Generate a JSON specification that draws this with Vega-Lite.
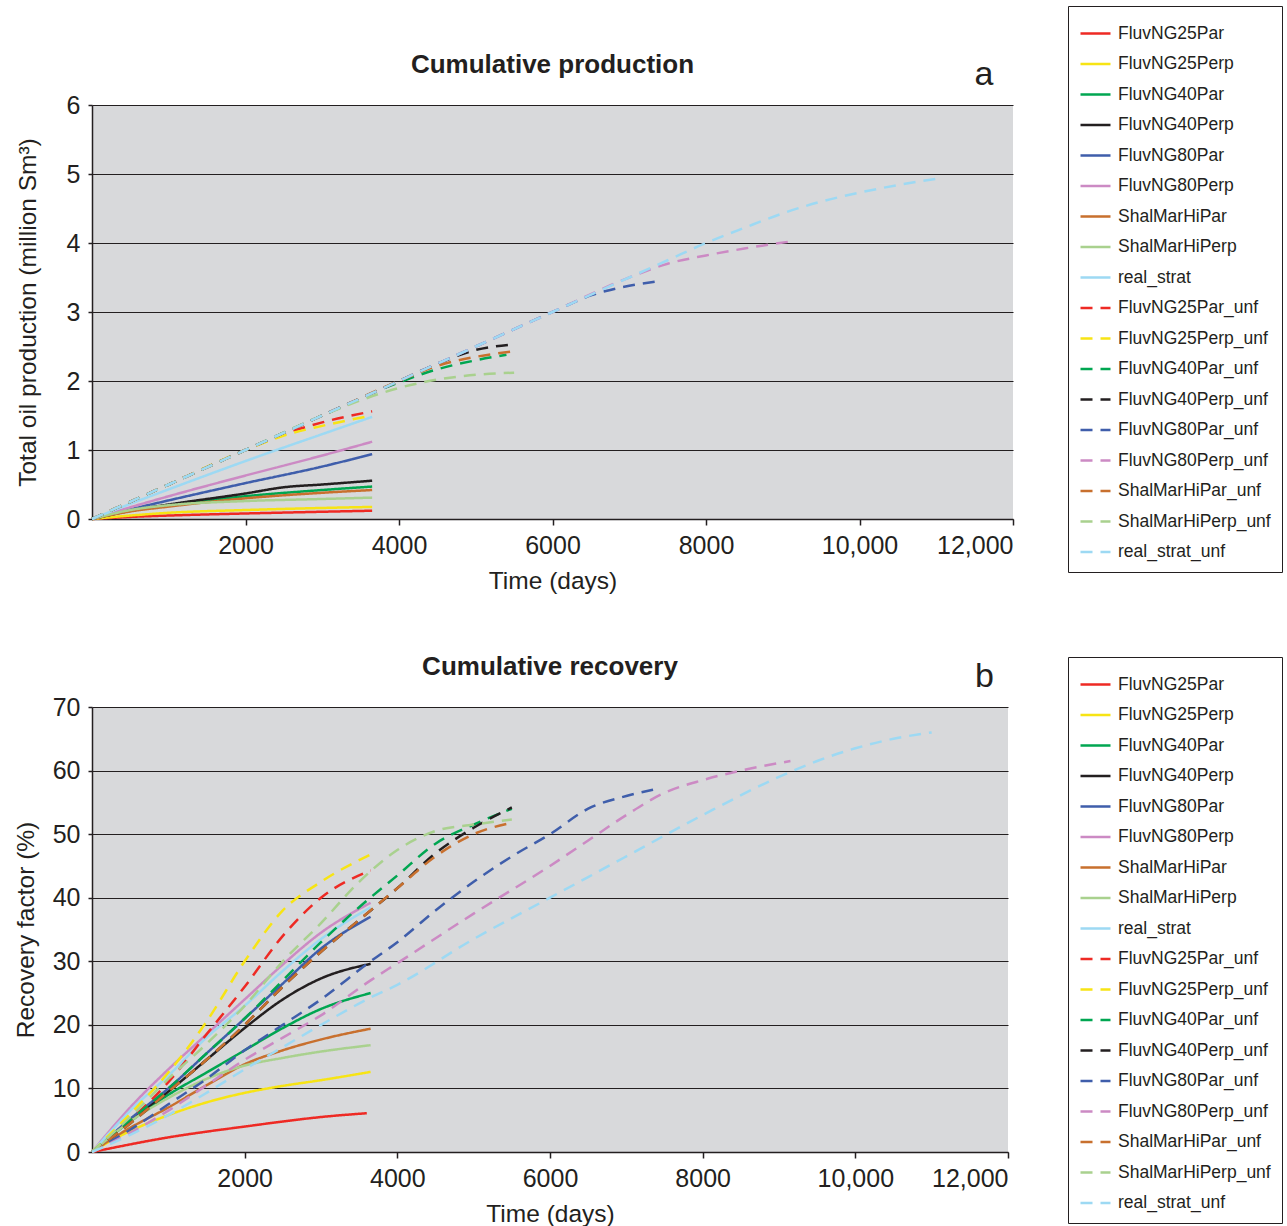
{
  "$schema": "https://vega.github.io/schema/vega-lite/v6.json",
  "padding": {"left": 13, "top": 5, "right": 4, "bottom": 2},
  "background": "white",
  "config": {
    "font": "Liberation Sans",
    "view": {"fill": "#d8d9db", "stroke": null},
    "axis": {
      "labelFont": "Liberation Sans", "labelFontSize": 25, "labelColor": "#231f20",
      "titleFont": "Liberation Sans", "titleFontSize": 24.5, "titleFontWeight": "normal", "titleColor": "#231f20",
      "domainColor": "#231f20", "domainWidth": 1.5, "tickColor": "#231f20", "tickWidth": 1.5,
      "gridColor": "#231f20", "gridWidth": 1.2, "gridOpacity": 1
    },
    "axisX": {"grid": false, "tickSize": 6, "labelPadding": 8, "titlePadding": 11},
    "axisY": {"grid": true, "tickSize": 4, "labelPadding": 8, "titlePadding": 14},
    "line": {"strokeWidth": 2.5, "interpolate": "monotone"},
    "legend": {
      "orient": "none", "symbolType": "stroke", "symbolSize": 900, "symbolStrokeWidth": 2.5,
      "labelFont": "Liberation Sans", "labelFontSize": 17.5, "labelColor": "#231f20", "labelLimit": 240,
      "rowPadding": 5.5, "padding": 11, "strokeColor": "#231f20", "fillColor": "white", "labelOffset": 6
    }
  },
  "datasets": {
    "prod": [
      {"s":"FluvNG25Par","t":0,"v":0},{"s":"FluvNG25Par","t":500,"v":0.03},{"s":"FluvNG25Par","t":1000,"v":0.05},{"s":"FluvNG25Par","t":2000,"v":0.08},{"s":"FluvNG25Par","t":3000,"v":0.105},{"s":"FluvNG25Par","t":3650,"v":0.12},
      {"s":"FluvNG25Perp","t":0,"v":0},{"s":"FluvNG25Perp","t":500,"v":0.05},{"s":"FluvNG25Perp","t":1000,"v":0.09},{"s":"FluvNG25Perp","t":2000,"v":0.13},{"s":"FluvNG25Perp","t":3000,"v":0.16},{"s":"FluvNG25Perp","t":3650,"v":0.175},
      {"s":"FluvNG40Par","t":0,"v":0},{"s":"FluvNG40Par","t":500,"v":0.12},{"s":"FluvNG40Par","t":1000,"v":0.2},{"s":"FluvNG40Par","t":2000,"v":0.33},{"s":"FluvNG40Par","t":3000,"v":0.42},{"s":"FluvNG40Par","t":3650,"v":0.47},
      {"s":"FluvNG40Perp","t":0,"v":0},{"s":"FluvNG40Perp","t":500,"v":0.12},{"s":"FluvNG40Perp","t":1000,"v":0.21},{"s":"FluvNG40Perp","t":2000,"v":0.37},{"s":"FluvNG40Perp","t":2500,"v":0.46},{"s":"FluvNG40Perp","t":3000,"v":0.5},{"s":"FluvNG40Perp","t":3650,"v":0.555},
      {"s":"FluvNG80Par","t":0,"v":0},{"s":"FluvNG80Par","t":500,"v":0.14},{"s":"FluvNG80Par","t":1000,"v":0.27},{"s":"FluvNG80Par","t":2000,"v":0.52},{"s":"FluvNG80Par","t":3000,"v":0.76},{"s":"FluvNG80Par","t":3650,"v":0.94},
      {"s":"FluvNG80Perp","t":0,"v":0},{"s":"FluvNG80Perp","t":500,"v":0.17},{"s":"FluvNG80Perp","t":1000,"v":0.33},{"s":"FluvNG80Perp","t":2000,"v":0.63},{"s":"FluvNG80Perp","t":3000,"v":0.92},{"s":"FluvNG80Perp","t":3650,"v":1.12},
      {"s":"ShalMarHiPar","t":0,"v":0},{"s":"ShalMarHiPar","t":500,"v":0.11},{"s":"ShalMarHiPar","t":1000,"v":0.18},{"s":"ShalMarHiPar","t":2000,"v":0.3},{"s":"ShalMarHiPar","t":3000,"v":0.38},{"s":"ShalMarHiPar","t":3650,"v":0.42},
      {"s":"ShalMarHiPerp","t":0,"v":0},{"s":"ShalMarHiPerp","t":500,"v":0.13},{"s":"ShalMarHiPerp","t":1000,"v":0.2},{"s":"ShalMarHiPerp","t":2000,"v":0.26},{"s":"ShalMarHiPerp","t":3000,"v":0.29},{"s":"ShalMarHiPerp","t":3650,"v":0.31},
      {"s":"real_strat","t":0,"v":0},{"s":"real_strat","t":500,"v":0.22},{"s":"real_strat","t":1000,"v":0.43},{"s":"real_strat","t":2000,"v":0.84},{"s":"real_strat","t":3000,"v":1.23},{"s":"real_strat","t":3650,"v":1.48},
      {"s":"FluvNG25Par_unf","t":0,"v":0},{"s":"FluvNG25Par_unf","t":1000,"v":0.5},{"s":"FluvNG25Par_unf","t":2000,"v":1.0},{"s":"FluvNG25Par_unf","t":2500,"v":1.23},{"s":"FluvNG25Par_unf","t":3000,"v":1.4},{"s":"FluvNG25Par_unf","t":3650,"v":1.56},
      {"s":"FluvNG25Perp_unf","t":0,"v":0},{"s":"FluvNG25Perp_unf","t":1000,"v":0.5},{"s":"FluvNG25Perp_unf","t":2000,"v":1.0},{"s":"FluvNG25Perp_unf","t":2500,"v":1.21},{"s":"FluvNG25Perp_unf","t":3000,"v":1.35},{"s":"FluvNG25Perp_unf","t":3650,"v":1.5},
      {"s":"FluvNG40Par_unf","t":0,"v":0},{"s":"FluvNG40Par_unf","t":1000,"v":0.5},{"s":"FluvNG40Par_unf","t":2000,"v":1.0},{"s":"FluvNG40Par_unf","t":3000,"v":1.5},{"s":"FluvNG40Par_unf","t":4000,"v":1.98},{"s":"FluvNG40Par_unf","t":4500,"v":2.17},{"s":"FluvNG40Par_unf","t":5000,"v":2.3},{"s":"FluvNG40Par_unf","t":5400,"v":2.38},
      {"s":"FluvNG40Perp_unf","t":0,"v":0},{"s":"FluvNG40Perp_unf","t":1000,"v":0.5},{"s":"FluvNG40Perp_unf","t":2000,"v":1.0},{"s":"FluvNG40Perp_unf","t":3000,"v":1.5},{"s":"FluvNG40Perp_unf","t":4000,"v":2.0},{"s":"FluvNG40Perp_unf","t":4500,"v":2.25},{"s":"FluvNG40Perp_unf","t":5000,"v":2.45},{"s":"FluvNG40Perp_unf","t":5500,"v":2.53},
      {"s":"FluvNG80Par_unf","t":0,"v":0},{"s":"FluvNG80Par_unf","t":1000,"v":0.5},{"s":"FluvNG80Par_unf","t":2000,"v":1.0},{"s":"FluvNG80Par_unf","t":3000,"v":1.5},{"s":"FluvNG80Par_unf","t":4000,"v":2.0},{"s":"FluvNG80Par_unf","t":5000,"v":2.5},{"s":"FluvNG80Par_unf","t":6000,"v":3.0},{"s":"FluvNG80Par_unf","t":6500,"v":3.24},{"s":"FluvNG80Par_unf","t":7000,"v":3.38},{"s":"FluvNG80Par_unf","t":7350,"v":3.44},
      {"s":"FluvNG80Perp_unf","t":0,"v":0},{"s":"FluvNG80Perp_unf","t":1000,"v":0.5},{"s":"FluvNG80Perp_unf","t":2000,"v":1.0},{"s":"FluvNG80Perp_unf","t":3000,"v":1.5},{"s":"FluvNG80Perp_unf","t":4000,"v":2.0},{"s":"FluvNG80Perp_unf","t":5000,"v":2.5},{"s":"FluvNG80Perp_unf","t":6000,"v":3.0},{"s":"FluvNG80Perp_unf","t":7000,"v":3.5},{"s":"FluvNG80Perp_unf","t":7500,"v":3.7},{"s":"FluvNG80Perp_unf","t":8000,"v":3.82},{"s":"FluvNG80Perp_unf","t":8500,"v":3.92},{"s":"FluvNG80Perp_unf","t":9150,"v":4.03},
      {"s":"ShalMarHiPar_unf","t":0,"v":0},{"s":"ShalMarHiPar_unf","t":1000,"v":0.5},{"s":"ShalMarHiPar_unf","t":2000,"v":1.0},{"s":"ShalMarHiPar_unf","t":3000,"v":1.5},{"s":"ShalMarHiPar_unf","t":4000,"v":2.0},{"s":"ShalMarHiPar_unf","t":4500,"v":2.22},{"s":"ShalMarHiPar_unf","t":5000,"v":2.35},{"s":"ShalMarHiPar_unf","t":5500,"v":2.43},
      {"s":"ShalMarHiPerp_unf","t":0,"v":0},{"s":"ShalMarHiPerp_unf","t":1000,"v":0.5},{"s":"ShalMarHiPerp_unf","t":2000,"v":1.0},{"s":"ShalMarHiPerp_unf","t":3000,"v":1.5},{"s":"ShalMarHiPerp_unf","t":3500,"v":1.72},{"s":"ShalMarHiPerp_unf","t":4000,"v":1.9},{"s":"ShalMarHiPerp_unf","t":4500,"v":2.02},{"s":"ShalMarHiPerp_unf","t":5000,"v":2.09},{"s":"ShalMarHiPerp_unf","t":5500,"v":2.12},
      {"s":"real_strat_unf","t":0,"v":0},{"s":"real_strat_unf","t":1000,"v":0.5},{"s":"real_strat_unf","t":2000,"v":1.0},{"s":"real_strat_unf","t":3000,"v":1.5},{"s":"real_strat_unf","t":4000,"v":2.0},{"s":"real_strat_unf","t":5000,"v":2.5},{"s":"real_strat_unf","t":6000,"v":3.0},{"s":"real_strat_unf","t":7000,"v":3.5},{"s":"real_strat_unf","t":7500,"v":3.75},{"s":"real_strat_unf","t":8000,"v":4.0},{"s":"real_strat_unf","t":8500,"v":4.22},{"s":"real_strat_unf","t":9000,"v":4.43},{"s":"real_strat_unf","t":9500,"v":4.6},{"s":"real_strat_unf","t":10000,"v":4.73},{"s":"real_strat_unf","t":10500,"v":4.84},{"s":"real_strat_unf","t":11000,"v":4.93}
    ],
    "rec": [
      {"s":"FluvNG25Par","t":0,"v":0},{"s":"FluvNG25Par","t":250,"v":0.6},{"s":"FluvNG25Par","t":500,"v":1.2},{"s":"FluvNG25Par","t":1000,"v":2.3},{"s":"FluvNG25Par","t":1500,"v":3.2},{"s":"FluvNG25Par","t":2000,"v":4.0},{"s":"FluvNG25Par","t":2500,"v":4.8},{"s":"FluvNG25Par","t":3000,"v":5.5},{"s":"FluvNG25Par","t":3600,"v":6.1},
      {"s":"FluvNG25Perp","t":0,"v":0},{"s":"FluvNG25Perp","t":250,"v":1.8},{"s":"FluvNG25Perp","t":500,"v":3.3},{"s":"FluvNG25Perp","t":1000,"v":5.8},{"s":"FluvNG25Perp","t":1500,"v":7.8},{"s":"FluvNG25Perp","t":2000,"v":9.3},{"s":"FluvNG25Perp","t":2500,"v":10.4},{"s":"FluvNG25Perp","t":3000,"v":11.3},{"s":"FluvNG25Perp","t":3650,"v":12.6},
      {"s":"FluvNG40Par","t":0,"v":0},{"s":"FluvNG40Par","t":250,"v":2.5},{"s":"FluvNG40Par","t":500,"v":4.8},{"s":"FluvNG40Par","t":1000,"v":9},{"s":"FluvNG40Par","t":1500,"v":12.5},{"s":"FluvNG40Par","t":2000,"v":16},{"s":"FluvNG40Par","t":2500,"v":19.5},{"s":"FluvNG40Par","t":3000,"v":22.5},{"s":"FluvNG40Par","t":3650,"v":25},
      {"s":"FluvNG40Perp","t":0,"v":0},{"s":"FluvNG40Perp","t":250,"v":2.5},{"s":"FluvNG40Perp","t":500,"v":5},{"s":"FluvNG40Perp","t":1000,"v":9.5},{"s":"FluvNG40Perp","t":1500,"v":14.5},{"s":"FluvNG40Perp","t":2000,"v":19.5},{"s":"FluvNG40Perp","t":2500,"v":24},{"s":"FluvNG40Perp","t":3000,"v":27.3},{"s":"FluvNG40Perp","t":3650,"v":29.6},
      {"s":"FluvNG80Par","t":0,"v":0},{"s":"FluvNG80Par","t":250,"v":2.6},{"s":"FluvNG80Par","t":500,"v":5.2},{"s":"FluvNG80Par","t":1000,"v":10},{"s":"FluvNG80Par","t":1500,"v":15.5},{"s":"FluvNG80Par","t":2000,"v":21},{"s":"FluvNG80Par","t":2500,"v":26.5},{"s":"FluvNG80Par","t":3000,"v":32},{"s":"FluvNG80Par","t":3650,"v":37},
      {"s":"FluvNG80Perp","t":0,"v":0},{"s":"FluvNG80Perp","t":250,"v":3.6},{"s":"FluvNG80Perp","t":500,"v":7},{"s":"FluvNG80Perp","t":1000,"v":13},{"s":"FluvNG80Perp","t":1500,"v":18.5},{"s":"FluvNG80Perp","t":2000,"v":24},{"s":"FluvNG80Perp","t":2500,"v":29.5},{"s":"FluvNG80Perp","t":3000,"v":34.5},{"s":"FluvNG80Perp","t":3650,"v":39.2},
      {"s":"ShalMarHiPar","t":0,"v":0},{"s":"ShalMarHiPar","t":250,"v":2},{"s":"ShalMarHiPar","t":500,"v":3.8},{"s":"ShalMarHiPar","t":1000,"v":7},{"s":"ShalMarHiPar","t":1500,"v":10.5},{"s":"ShalMarHiPar","t":2000,"v":13.8},{"s":"ShalMarHiPar","t":2500,"v":16},{"s":"ShalMarHiPar","t":3000,"v":17.7},{"s":"ShalMarHiPar","t":3650,"v":19.4},
      {"s":"ShalMarHiPerp","t":0,"v":0},{"s":"ShalMarHiPerp","t":250,"v":2.5},{"s":"ShalMarHiPerp","t":500,"v":4.8},{"s":"ShalMarHiPerp","t":1000,"v":8.5},{"s":"ShalMarHiPerp","t":1500,"v":11.5},{"s":"ShalMarHiPerp","t":2000,"v":13.6},{"s":"ShalMarHiPerp","t":2500,"v":14.8},{"s":"ShalMarHiPerp","t":3000,"v":15.8},{"s":"ShalMarHiPerp","t":3650,"v":16.8},
      {"s":"real_strat","t":0,"v":0},{"s":"real_strat","t":250,"v":3.3},{"s":"real_strat","t":500,"v":6.5},{"s":"real_strat","t":1000,"v":12},{"s":"real_strat","t":1500,"v":18},{"s":"real_strat","t":2000,"v":23},{"s":"real_strat","t":2500,"v":28.5},{"s":"real_strat","t":3000,"v":33.5},{"s":"real_strat","t":3650,"v":38.5},
      {"s":"FluvNG25Par_unf","t":0,"v":0},{"s":"FluvNG25Par_unf","t":500,"v":5},{"s":"FluvNG25Par_unf","t":1000,"v":11},{"s":"FluvNG25Par_unf","t":1500,"v":18.5},{"s":"FluvNG25Par_unf","t":2000,"v":26},{"s":"FluvNG25Par_unf","t":2500,"v":34},{"s":"FluvNG25Par_unf","t":3000,"v":40},{"s":"FluvNG25Par_unf","t":3650,"v":44.3},
      {"s":"FluvNG25Perp_unf","t":0,"v":0},{"s":"FluvNG25Perp_unf","t":500,"v":6},{"s":"FluvNG25Perp_unf","t":1000,"v":12.5},{"s":"FluvNG25Perp_unf","t":1500,"v":20.5},{"s":"FluvNG25Perp_unf","t":2000,"v":30},{"s":"FluvNG25Perp_unf","t":2500,"v":38},{"s":"FluvNG25Perp_unf","t":3000,"v":42.5},{"s":"FluvNG25Perp_unf","t":3650,"v":46.8},
      {"s":"FluvNG40Par_unf","t":0,"v":0},{"s":"FluvNG40Par_unf","t":500,"v":5},{"s":"FluvNG40Par_unf","t":1000,"v":10},{"s":"FluvNG40Par_unf","t":1500,"v":15.5},{"s":"FluvNG40Par_unf","t":2000,"v":21},{"s":"FluvNG40Par_unf","t":2500,"v":27},{"s":"FluvNG40Par_unf","t":3000,"v":33},{"s":"FluvNG40Par_unf","t":3500,"v":38.5},{"s":"FluvNG40Par_unf","t":4000,"v":43.5},{"s":"FluvNG40Par_unf","t":4500,"v":48.5},{"s":"FluvNG40Par_unf","t":5000,"v":51.5},{"s":"FluvNG40Par_unf","t":5500,"v":54},
      {"s":"FluvNG40Perp_unf","t":0,"v":0},{"s":"FluvNG40Perp_unf","t":500,"v":4.5},{"s":"FluvNG40Perp_unf","t":1000,"v":9.5},{"s":"FluvNG40Perp_unf","t":1500,"v":14.5},{"s":"FluvNG40Perp_unf","t":2000,"v":20},{"s":"FluvNG40Perp_unf","t":2500,"v":26},{"s":"FluvNG40Perp_unf","t":3000,"v":31.5},{"s":"FluvNG40Perp_unf","t":3500,"v":36.5},{"s":"FluvNG40Perp_unf","t":4000,"v":41.5},{"s":"FluvNG40Perp_unf","t":4500,"v":47},{"s":"FluvNG40Perp_unf","t":5000,"v":51},{"s":"FluvNG40Perp_unf","t":5500,"v":54.2},
      {"s":"FluvNG80Par_unf","t":0,"v":0},{"s":"FluvNG80Par_unf","t":500,"v":3.5},{"s":"FluvNG80Par_unf","t":1000,"v":7.5},{"s":"FluvNG80Par_unf","t":1500,"v":11.5},{"s":"FluvNG80Par_unf","t":2000,"v":16},{"s":"FluvNG80Par_unf","t":2500,"v":20},{"s":"FluvNG80Par_unf","t":3000,"v":24},{"s":"FluvNG80Par_unf","t":3650,"v":30},{"s":"FluvNG80Par_unf","t":4000,"v":33},{"s":"FluvNG80Par_unf","t":4500,"v":38},{"s":"FluvNG80Par_unf","t":5000,"v":42.5},{"s":"FluvNG80Par_unf","t":5500,"v":46.5},{"s":"FluvNG80Par_unf","t":6000,"v":50},{"s":"FluvNG80Par_unf","t":6500,"v":54},{"s":"FluvNG80Par_unf","t":7000,"v":56},{"s":"FluvNG80Par_unf","t":7350,"v":57},
      {"s":"FluvNG80Perp_unf","t":0,"v":0},{"s":"FluvNG80Perp_unf","t":500,"v":3},{"s":"FluvNG80Perp_unf","t":1000,"v":6.5},{"s":"FluvNG80Perp_unf","t":1500,"v":10.5},{"s":"FluvNG80Perp_unf","t":2000,"v":14.5},{"s":"FluvNG80Perp_unf","t":2500,"v":18},{"s":"FluvNG80Perp_unf","t":3000,"v":21.5},{"s":"FluvNG80Perp_unf","t":3650,"v":27},{"s":"FluvNG80Perp_unf","t":4000,"v":29.7},{"s":"FluvNG80Perp_unf","t":5000,"v":37.5},{"s":"FluvNG80Perp_unf","t":6000,"v":45},{"s":"FluvNG80Perp_unf","t":6500,"v":49},{"s":"FluvNG80Perp_unf","t":7000,"v":53},{"s":"FluvNG80Perp_unf","t":7500,"v":56.5},{"s":"FluvNG80Perp_unf","t":8000,"v":58.5},{"s":"FluvNG80Perp_unf","t":8500,"v":60},{"s":"FluvNG80Perp_unf","t":9150,"v":61.5},
      {"s":"ShalMarHiPar_unf","t":0,"v":0},{"s":"ShalMarHiPar_unf","t":500,"v":4.5},{"s":"ShalMarHiPar_unf","t":1000,"v":9.5},{"s":"ShalMarHiPar_unf","t":1500,"v":14.5},{"s":"ShalMarHiPar_unf","t":2000,"v":20},{"s":"ShalMarHiPar_unf","t":2500,"v":26},{"s":"ShalMarHiPar_unf","t":3000,"v":31.5},{"s":"ShalMarHiPar_unf","t":3500,"v":36.5},{"s":"ShalMarHiPar_unf","t":4000,"v":41.5},{"s":"ShalMarHiPar_unf","t":4500,"v":46.5},{"s":"ShalMarHiPar_unf","t":5000,"v":50},{"s":"ShalMarHiPar_unf","t":5500,"v":51.8},
      {"s":"ShalMarHiPerp_unf","t":0,"v":0},{"s":"ShalMarHiPerp_unf","t":500,"v":5.5},{"s":"ShalMarHiPerp_unf","t":1000,"v":11.5},{"s":"ShalMarHiPerp_unf","t":1500,"v":17},{"s":"ShalMarHiPerp_unf","t":2000,"v":23},{"s":"ShalMarHiPerp_unf","t":2500,"v":30},{"s":"ShalMarHiPerp_unf","t":3000,"v":36},{"s":"ShalMarHiPerp_unf","t":3500,"v":42.5},{"s":"ShalMarHiPerp_unf","t":4000,"v":47.5},{"s":"ShalMarHiPerp_unf","t":4500,"v":50.5},{"s":"ShalMarHiPerp_unf","t":5000,"v":51.5},{"s":"ShalMarHiPerp_unf","t":5500,"v":52.3},
      {"s":"real_strat_unf","t":0,"v":0},{"s":"real_strat_unf","t":500,"v":2.7},{"s":"real_strat_unf","t":1000,"v":5.8},{"s":"real_strat_unf","t":1500,"v":9.3},{"s":"real_strat_unf","t":2000,"v":13},{"s":"real_strat_unf","t":2500,"v":16.5},{"s":"real_strat_unf","t":3000,"v":20},{"s":"real_strat_unf","t":3650,"v":24.3},{"s":"real_strat_unf","t":4000,"v":26.3},{"s":"real_strat_unf","t":5000,"v":33.5},{"s":"real_strat_unf","t":6000,"v":40},{"s":"real_strat_unf","t":7000,"v":46.5},{"s":"real_strat_unf","t":8000,"v":53},{"s":"real_strat_unf","t":9000,"v":59},{"s":"real_strat_unf","t":9500,"v":61.5},{"s":"real_strat_unf","t":10000,"v":63.5},{"s":"real_strat_unf","t":10500,"v":65},{"s":"real_strat_unf","t":11000,"v":66}
    ]
  },
  "spacing": 188,
  "bounds": "flush",
  "resolve": {
    "scale": {"color": "independent", "strokeDash": "independent", "x": "independent", "y": "independent"},
    "legend": {"color": "independent", "strokeDash": "independent"}
  },
  "vconcat": [
    {
      "width": 921, "height": 414,
      "layer": [
        {
          "data": {"name": "prod"},
          "mark": {"type": "line"},
          "encoding": {
            "x": {"field": "t", "type": "quantitative", "scale": {"domain": [0, 12000], "nice": false},
                  "axis": {"values": [2000, 4000, 6000, 8000, 10000, 12000], "title": "Time (days)",
                           "labelExpr": "datum.value >= 10000 ? format(datum.value, ',') : format(datum.value, 'd')"}},
            "y": {"field": "v", "type": "quantitative", "scale": {"domain": [0, 6], "nice": false},
                  "axis": {"values": [0, 1, 2, 3, 4, 5, 6], "format": "d", "titlePadding": 26, "title": "Total oil production (million Sm³)"}},
            "color": {"field": "s", "type": "nominal",
                      "scale": {"domain": ["FluvNG25Par","FluvNG25Perp","FluvNG40Par","FluvNG40Perp","FluvNG80Par","FluvNG80Perp","ShalMarHiPar","ShalMarHiPerp","real_strat","FluvNG25Par_unf","FluvNG25Perp_unf","FluvNG40Par_unf","FluvNG40Perp_unf","FluvNG80Par_unf","FluvNG80Perp_unf","ShalMarHiPar_unf","ShalMarHiPerp_unf","real_strat_unf"],
                                "range": ["#ee2a24","#f7e414","#00a651","#231f20","#3f5eab","#cc8ac4","#c8702e","#a9d18e","#9dd9f3","#ee2a24","#f7e414","#00a651","#231f20","#3f5eab","#cc8ac4","#c8702e","#a9d18e","#9dd9f3"]},
                      "legend": {"title": null, "legendX": 976, "legendY": -99}},
            "strokeDash": {"field": "s", "type": "nominal",
                      "scale": {"domain": ["FluvNG25Par","FluvNG25Perp","FluvNG40Par","FluvNG40Perp","FluvNG80Par","FluvNG80Perp","ShalMarHiPar","ShalMarHiPerp","real_strat","FluvNG25Par_unf","FluvNG25Perp_unf","FluvNG40Par_unf","FluvNG40Perp_unf","FluvNG80Par_unf","FluvNG80Perp_unf","ShalMarHiPar_unf","ShalMarHiPerp_unf","real_strat_unf"],
                                "range": [[1,0],[1,0],[1,0],[1,0],[1,0],[1,0],[1,0],[1,0],[1,0],[12,8],[12,8],[12,8],[12,8],[12,8],[12,8],[12,8],[12,8],[12,8]]},
                      "legend": {"title": null, "legendX": 976, "legendY": -99}}
          }
        },
        {
          "data": {"values": [{"l": "Cumulative production", "x": 6000, "y": 6.58}]},
          "mark": {"type": "text", "fontSize": 26, "fontWeight": "bold", "font": "Liberation Sans", "color": "#231f20", "align": "center", "baseline": "middle"},
          "encoding": {
            "text": {"field": "l"},
            "x": {"field": "x", "type": "quantitative"},
            "y": {"field": "y", "type": "quantitative"}
          }
        },
        {
          "data": {"values": [{"l": "a", "x": 11620, "y": 6.43}]},
          "mark": {"type": "text", "fontSize": 34, "font": "Liberation Sans", "color": "#231f20", "align": "center", "baseline": "middle"},
          "encoding": {
            "text": {"field": "l"},
            "x": {"field": "x", "type": "quantitative"},
            "y": {"field": "y", "type": "quantitative"}
          }
        }
      ]
    },
    {
      "width": 916, "height": 445,
      "layer": [
        {
          "data": {"name": "rec"},
          "mark": {"type": "line"},
          "encoding": {
            "x": {"field": "t", "type": "quantitative", "scale": {"domain": [0, 12000], "nice": false},
                  "axis": {"values": [2000, 4000, 6000, 8000, 10000, 12000], "title": "Time (days)",
                           "labelExpr": "datum.value >= 10000 ? format(datum.value, ',') : format(datum.value, 'd')"}},
            "y": {"field": "v", "type": "quantitative", "scale": {"domain": [0, 70], "nice": false},
                  "axis": {"values": [0, 10, 20, 30, 40, 50, 60, 70], "format": "d", "title": "Recovery factor (%)"}},
            "color": {"field": "s", "type": "nominal",
                      "scale": {"domain": ["FluvNG25Par","FluvNG25Perp","FluvNG40Par","FluvNG40Perp","FluvNG80Par","FluvNG80Perp","ShalMarHiPar","ShalMarHiPerp","real_strat","FluvNG25Par_unf","FluvNG25Perp_unf","FluvNG40Par_unf","FluvNG40Perp_unf","FluvNG80Par_unf","FluvNG80Perp_unf","ShalMarHiPar_unf","ShalMarHiPerp_unf","real_strat_unf"],
                                "range": ["#ee2a24","#f7e414","#00a651","#231f20","#3f5eab","#cc8ac4","#c8702e","#a9d18e","#9dd9f3","#ee2a24","#f7e414","#00a651","#231f20","#3f5eab","#cc8ac4","#c8702e","#a9d18e","#9dd9f3"]},
                      "legend": {"title": null, "legendX": 976, "legendY": -50}},
            "strokeDash": {"field": "s", "type": "nominal",
                      "scale": {"domain": ["FluvNG25Par","FluvNG25Perp","FluvNG40Par","FluvNG40Perp","FluvNG80Par","FluvNG80Perp","ShalMarHiPar","ShalMarHiPerp","real_strat","FluvNG25Par_unf","FluvNG25Perp_unf","FluvNG40Par_unf","FluvNG40Perp_unf","FluvNG80Par_unf","FluvNG80Perp_unf","ShalMarHiPar_unf","ShalMarHiPerp_unf","real_strat_unf"],
                                "range": [[1,0],[1,0],[1,0],[1,0],[1,0],[1,0],[1,0],[1,0],[1,0],[12,8],[12,8],[12,8],[12,8],[12,8],[12,8],[12,8],[12,8],[12,8]]},
                      "legend": {"title": null, "legendX": 976, "legendY": -50}}
          }
        },
        {
          "data": {"values": [{"l": "Cumulative recovery", "x": 6000, "y": 76.3}]},
          "mark": {"type": "text", "fontSize": 26, "fontWeight": "bold", "font": "Liberation Sans", "color": "#231f20", "align": "center", "baseline": "middle"},
          "encoding": {
            "text": {"field": "l"},
            "x": {"field": "x", "type": "quantitative"},
            "y": {"field": "y", "type": "quantitative"}
          }
        },
        {
          "data": {"values": [{"l": "b", "x": 11690, "y": 74.7}]},
          "mark": {"type": "text", "fontSize": 34, "font": "Liberation Sans", "color": "#231f20", "align": "center", "baseline": "middle"},
          "encoding": {
            "text": {"field": "l"},
            "x": {"field": "x", "type": "quantitative"},
            "y": {"field": "y", "type": "quantitative"}
          }
        }
      ]
    }
  ]
}
